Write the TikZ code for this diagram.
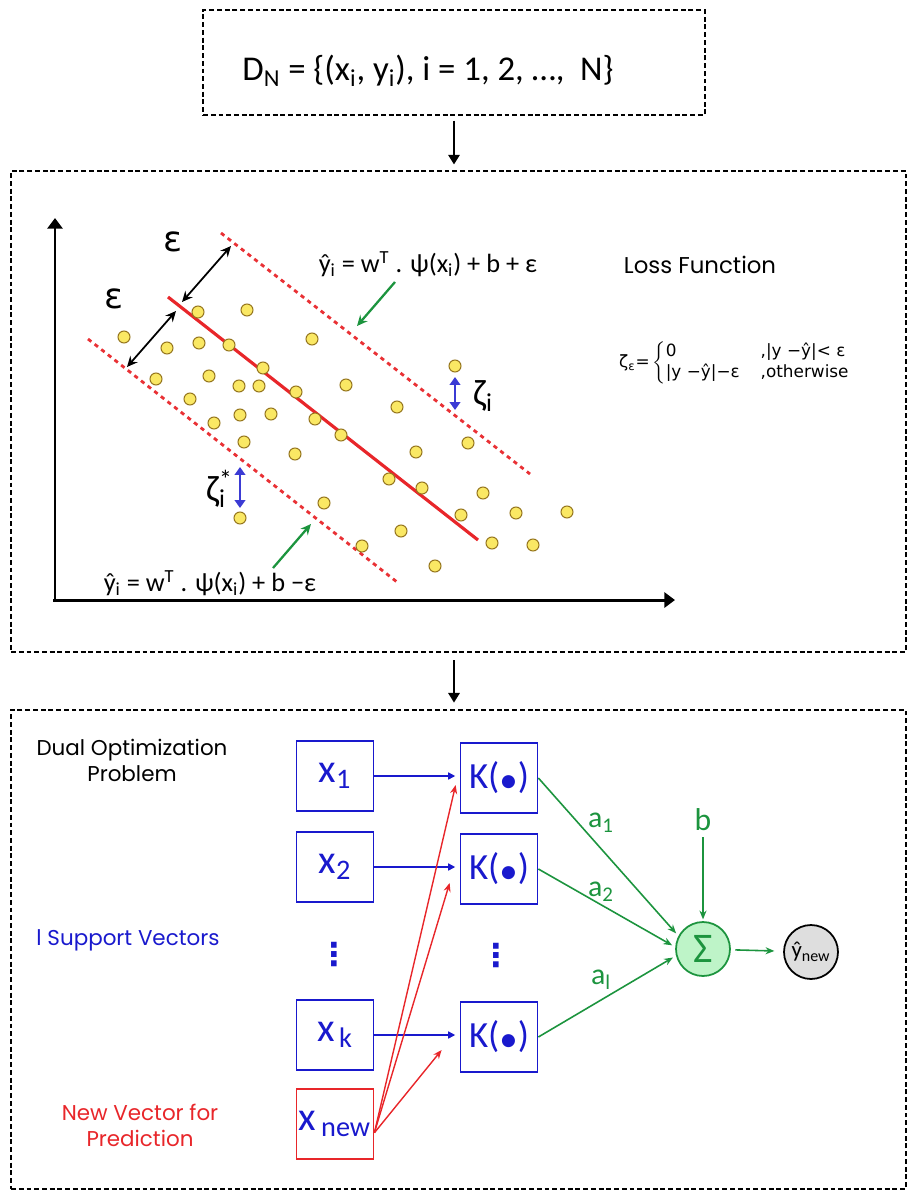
\documentclass[tikz,border=0pt]{standalone}
\usepackage{fontspec}
\setmainfont{Carlito}
\newfontfamily\geofont{Poppins}
\newfontfamily\verdfont{DejaVu Sans}
\usetikzlibrary{arrows.meta,positioning}

\definecolor{svblue}{RGB}{25,25,205}
\definecolor{svred}{RGB}{232,38,42}
\definecolor{svgreen}{RGB}{28,148,62}
\definecolor{sumfill}{RGB}{190,244,200}
\definecolor{ptfill}{RGB}{250,232,100}
\definecolor{ptedge}{RGB}{150,118,30}
\definecolor{outfill}{RGB}{222,222,222}

\tikzset{
  panel/.style={draw, line width=1.5pt, dash pattern=on 2.8pt off 1.6pt, inner sep=0pt},
  flow/.style={-{Triangle[length=5.5pt,width=6.5pt]}, line width=1.1pt},
  axis/.style={-{Triangle[length=6pt,width=8.5pt]}, line width=1.7pt},
  margin/.style={svred!95, line width=1.6pt, dash pattern=on 2.4pt off 2.4pt},
  epsarr/.style={{Stealth[length=6pt,width=5.5pt]}-{Stealth[length=6pt,width=5.5pt]}, line width=1pt},
  zetaarr/.style={{Triangle[length=4.5pt,width=6pt]}-{Triangle[length=4.5pt,width=6pt]}, svblue!85!white, line width=1.4pt},
  pointer/.style={-{Stealth[length=6pt,width=5.5pt]}, svgreen, line width=1.3pt},
  datapt/.style={fill=ptfill, draw=ptedge, line width=0.6pt},
  eqtext/.style={font=\fontsize{15}{15}\selectfont},
  xbox/.style={draw=svblue, line width=1pt, minimum width=1.54cm, minimum height=1.4cm,
    inner sep=0pt, text=svblue, font=\fontsize{23}{23}\selectfont},
  kbox/.style={xbox, font=\fontsize{21}{21}\selectfont},
  vdots/.style={text=svblue, font=\verdfont\bfseries\fontsize{18}{18}\selectfont},
  inarr/.style={-{Triangle[length=4pt,width=4pt]}, svblue, line width=0.8pt},
  newarr/.style={-{Stealth[length=5pt,width=4pt]}, svred, line width=0.8pt},
  wtarr/.style={-{Stealth[length=5pt,width=4pt]}, svgreen, line width=0.9pt},
  weight/.style={text=svgreen, font=\fontsize{17}{17}\selectfont},
  sidetext/.style={align=center, font=\geofont\fontsize{12.2}{14.8}\selectfont}
}

\begin{document}
\begin{tikzpicture}[x=0.02cm, y=-0.02cm]
    \useasboundingbox (0,0) rectangle (909,1190);

    \node (data) [panel, minimum width=10.04cm, minimum height=2.1cm] at (454,62.5) {};
    \node (dataeq) at (428,71) [font=\fontsize{19.8}{19.8}\selectfont] {D\textsubscript{N} = \{(x\textsubscript{i}, y\textsubscript{i}), i = 1, 2, …,\ \ N\}};
    \node (plot) [panel, minimum width=17.9cm, minimum height=9.62cm] at (458.5,411.5) {};
    \node (dual) [panel, minimum width=17.9cm, minimum height=9.58cm] at (458.5,949.5) {};

    \draw [flow, shorten <=2.5pt, shorten >=3pt] (data.south) -- (data.south |- plot.north);
    \draw [flow, shorten <=4pt, shorten >=3.5pt] (data.south |- plot.south) -- (data.south |- dual.north);

    \draw [axis] (55,602) -- (55,218);
    \draw [axis] (53,600) -- (675,600);

    \draw [margin] (221,233) -- (530,474);
    \draw [margin] (88,339) -- (397,582);
    \draw [svred, line width=1.8pt] (168,297) -- (478,540);

    \draw [epsarr] (182,302) -- (231,246);
    \draw [epsarr] (127,367) -- (176,311);
    \node (epsa) at (173,242) [font=\verdfont\fontsize{20}{20}\selectfont] {ε};
    \node (epsb) at (114,299) [font=\verdfont\fontsize{20}{20}\selectfont] {ε};

    \foreach \px/\py in {124/337, 167/348, 198/312, 247/310, 199/343, 229/345, 312/339,
      263/368, 156/379, 209/376, 239/386, 259/386, 296/392, 346/385, 190/399, 397/407,
      455/366, 240/415, 271/414, 315/419, 214/423, 341/435, 244/442, 295/454, 416/452,
      468/443, 389/479, 422/488, 483/493, 324/503, 240/518, 461/515, 516/513, 567/512,
      401/531, 362/546, 492/543, 533/545, 435/566}
      \draw [datapt] (\px,\py) circle (0.12cm);

    \draw [zetaarr] (455,377) -- (455,410);
    \draw [zetaarr] (240,467) -- (240,508);
    \node (zeta) at (483,396) [font=\fontsize{21}{21}\selectfont] {ζ\textsubscript{i}};
    \node (zetastar) at (216,489) [font=\fontsize{21}{21}\selectfont] {ζ\rlap{\textsuperscript{*}}\textsubscript{i}};

    \node (upper) at (428,264) [eqtext] {ŷ\textsubscript{i} = w\textsuperscript{T} . ψ(x\textsubscript{i}) + b + ε};
    \node (lower) at (210,583) [eqtext] {ŷ\textsubscript{i} = w\textsuperscript{T} . ψ(x\textsubscript{i}) + b −ε};
    \draw [pointer] (395,282) -- (357,326);
    \draw [pointer] (273,568) -- (311,524);

    \node (losstitle) at (700,265) [font=\geofont\fontsize{13}{13}\selectfont] {Loss Function};
    \node (lossfn) at (613,363) [anchor=west, font=\verdfont\fontsize{9.6}{11.6}\selectfont]
      {ζ\textsubscript{ε}=\,$\left\{\begin{tabular}{@{}p{54pt}@{}l@{}}0 & ,|y −ŷ|< ε\\|y −ŷ|−ε & ,otherwise\end{tabular}\right.$};

    \node (dualtxt) at (132,760) [sidetext] {Dual Optimization\\Problem};
    \node (svtxt) at (128,940) [sidetext, text=svblue] {l Support Vectors};
    \node (newtxt) at (140,1125) [sidetext, text=svred] {New Vector for\\Prediction};

    \node (x1) [xbox] at (335,776) {x\textsubscript{1}};
    \node (x2) [xbox] at (335,867) {x\textsubscript{2}};
    \node (xdots) [vdots] at (334,955) {⋮};
    \node (xk) [xbox] at (335,1035) {x\textsubscript{\,k}};
    \node (xnew) [xbox, draw=svred] at (335,1124) {x\textsubscript{\,new}};

    \node (k1) [kbox] at (499,778) {K(\raisebox{-0.2ex}{•})};
    \node (k2) [kbox] at (499,869) {K(\raisebox{-0.2ex}{•})};
    \node (kdots) [vdots] at (496,956) {⋮};
    \node (k3) [kbox] at (499,1037) {K(\raisebox{-0.2ex}{•})};

    \draw [inarr, shorten >=2.5pt] (x1) -- (x1 -| k1.west);
    \draw [inarr, shorten >=2.5pt] (x2) -- (x2 -| k2.west);
    \draw [inarr, shorten >=2.5pt] (xk) -- (xk -| k3.west);

    \coordinate (hit1) at ([shift={(-4,7)}]k1.west);
    \coordinate (hit2) at ([shift={(-10,14)}]k2.west);
    \coordinate (hit3) at ([shift={(-18,13)}]k3.west);
    \draw [newarr] ([yshift=-5pt]xnew.east) -- (hit1);
    \draw [newarr] ([yshift=-5pt]xnew.east) -- (hit2);
    \draw [newarr] ([yshift=-5pt]xnew.east) -- (hit3);

    \node (sum) [circle, draw=svgreen, fill=sumfill, line width=1pt, minimum size=1.08cm,
      inner sep=0pt, text=svgreen, font=\fontsize{24}{24}\selectfont] at (703,949) {Σ};
    \node (yhat) [circle, draw, fill=outfill, line width=1pt, minimum size=1.08cm,
      inner sep=0pt, font=\fontsize{13}{13}\selectfont] at (811,952) {ŷ\textsubscript{new}};
    \node (bias) at (703,820) [weight, font=\fontsize{18}{18}\selectfont] {b};

    \draw [wtarr, shorten >=2pt] (k1.east) -- (sum.152);
    \draw [wtarr, shorten >=2pt] (k2.east) -- (sum.176);
    \draw [wtarr, shorten >=2pt] (k3.east) -- (sum.194);
    \draw [wtarr, shorten >=1pt] (bias) -- (sum);
    \draw [wtarr, shorten <=2.5pt, shorten >=5pt] (sum) -- (yhat);

    \node (a1) at (601,823) [weight] {a\textsubscript{1}};
    \node (a2) at (601,892) [weight] {a\textsubscript{2}};
    \node (al) at (601,980) [weight] {a\textsubscript{l}};
\end{tikzpicture}
\end{document}
